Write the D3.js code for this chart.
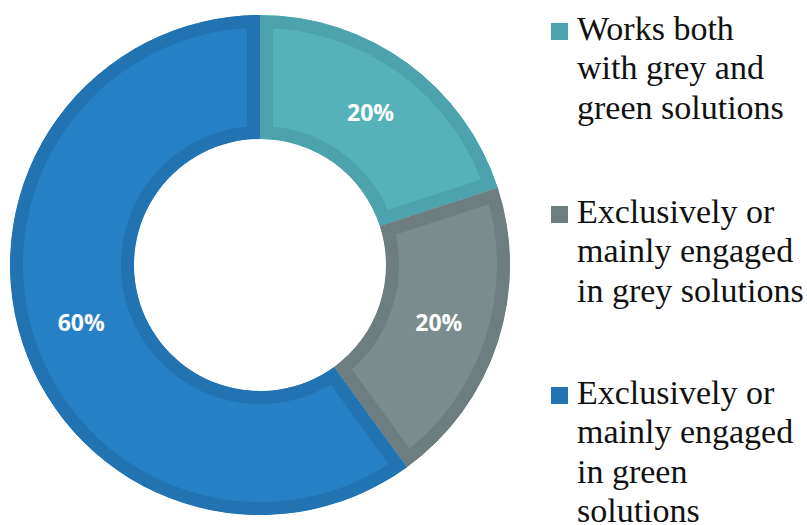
<!DOCTYPE html>
<html>
<head>
<meta charset="utf-8">
<script src="https://cdn.jsdelivr.net/npm/d3@7"></script>
<style>
  html, body { margin: 0; padding: 0; background: #fff; }
  svg { display: block; }
  .pct { font-family: "Open Sans", "Noto Sans", sans-serif; font-weight: 700; font-size: 23px; fill: #fff; }
  .legend-text { font-family: "Liberation Serif", "Times New Roman", serif; font-size: 34px; fill: #111; }
</style>
</head>
<body>
<svg id="chart" width="807" height="525"></svg>
<script>
const categories = ["Works both with grey and green solutions", "Exclusively or mainly engaged in grey solutions", "Exclusively or mainly engaged in green solutions"];
const values = [20, 20, 60];
const labels = ["20%", "20%", "60%"];
const fillColors = ["#55b2bb", "#7a8c8d", "#2680c5"];
const borderColors = ["#4ca3ad", "#6e7e80", "#2273b2"];
const legendLines = [
  ["Works both", "with grey and", "green solutions"],
  ["Exclusively or", "mainly engaged", "in grey solutions"],
  ["Exclusively or", "mainly engaged", "in green", "solutions"]
];

const svg = d3.select("#chart");
const cx = 260, cy = 265, rOuter = 250, rInner = 126, border = 13;

const pie = d3.pie().sort(null).value(d => d).startAngle(0).endAngle(2 * Math.PI);
const arc = d3.arc().innerRadius(rInner).outerRadius(rOuter);
const arcs = pie(values);

const defs = svg.append("defs");
const g = svg.append("g").attr("transform", `translate(${cx},${cy})`);

arcs.forEach((a, i) => {
  defs.append("clipPath").attr("id", "clip" + i)
    .append("path").attr("d", arc(a));
});

g.selectAll("path.slice").data(arcs).join("path")
  .attr("class", "slice")
  .attr("d", arc)
  .attr("fill", (d, i) => fillColors[i])
  .attr("stroke", (d, i) => borderColors[i])
  .attr("stroke-width", border * 2)
  .attr("clip-path", (d, i) => `url(#clip${i})`);

const labelArc = d3.arc().innerRadius((rInner + rOuter) / 2).outerRadius((rInner + rOuter) / 2);
g.selectAll("text.pct").data(arcs).join("text")
  .attr("class", "pct")
  .attr("transform", d => `translate(${labelArc.centroid(d)})`)
  .attr("text-anchor", "middle")
  .attr("dy", "0.36em")
  .text((d, i) => labels[i]);

// Legend
const legendStart = [40, 223, 404];
const lineH = 39.3;
const lg = svg.append("g");
legendLines.forEach((lines, i) => {
  const y0 = legendStart[i];
  lg.append("rect")
    .attr("x", 551).attr("y", y0 - 17)
    .attr("width", 17).attr("height", 17)
    .attr("fill", borderColors[i]);
  const t = lg.append("text")
    .attr("class", "legend-text")
    .attr("x", 577).attr("y", y0);
  lines.forEach((ln, j) => {
    t.append("tspan").attr("x", 577).attr("y", y0 + j * lineH).text(ln);
  });
});
</script>
</body>
</html>
